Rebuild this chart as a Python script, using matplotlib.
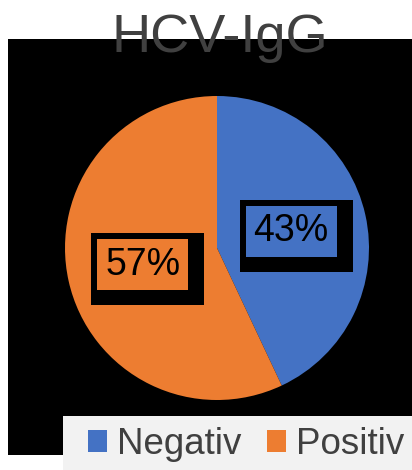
import matplotlib.pyplot as plt
from matplotlib.patches import Rectangle

plt.rcParams['font.family'] = ['Liberation Sans', 'DejaVu Sans']

# chart data
title = 'HCV-IgG'
categories = ['Negativ', 'Positiv']
shares = [43, 57]
colors = ['#4472C4', '#ED7D31']

W, H = 412, 470
fig = plt.figure(figsize=(W / 100, H / 100), dpi=100)

# black plot area behind the pie
bg = fig.add_axes([8 / W, 15 / H, 1 - 8 / W, (455 - 39) / H])
bg.set_facecolor('black')
bg.set_xticks([])
bg.set_yticks([])
for s in bg.spines.values():
    s.set_visible(False)

ax = fig.add_axes([65 / W, 70 / H, 304 / W, 304 / H])
wedges, _, pct_texts = ax.pie(shares, colors=colors, startangle=90, counterclock=False,
                              autopct='%1.0f%%', pctdistance=0.5,
                              textprops=dict(fontsize=27, color='black'))
ax.set_xlim(-1, 1)
ax.set_ylim(-1, 1)

# boxed data labels: black frame, heavier on right/bottom
fig.canvas.draw()
r = fig.canvas.get_renderer()
inv = fig.transFigure.inverted()
for t, c in zip(pct_texts, colors):
    bb = t.get_window_extent(r)
    cy = (bb.y0 + bb.y1) / 2
    ix0, ix1 = bb.x0 - 8, bb.x1 + 8
    iy0, iy1 = cy - 25.5, cy + 25.5
    for (x0, y0, x1, y1), fc, z in [((ix0 - 6, iy0 - 15, ix1 + 16, iy1 + 6), 'black', 2),
                                     ((ix0, iy0, ix1, iy1), c, 2.5)]:
        (fx0, fy0), (fx1, fy1) = inv.transform([(x0, y0), (x1, y1)])
        ax.add_patch(Rectangle((fx0, fy0), fx1 - fx0, fy1 - fy0, transform=fig.transFigure,
                               facecolor=fc, edgecolor='none', zorder=z))

fig.text(220 / W, 1 - 52 / H, title, ha='center', va='baseline', fontsize=39, color='#404040')

# legend strip along the bottom
fig.add_artist(Rectangle((63 / W, 0), 1 - 63 / W, 54 / H, transform=fig.transFigure,
                         facecolor='#f2f2f2', edgecolor='none', zorder=1))
leg = fig.legend(wedges, categories, loc='upper left', bbox_to_anchor=(88 / W, 1 - 427 / H),
                 borderaxespad=0, borderpad=0, ncol=2, fontsize=26.5, labelcolor='#404040',
                 handlelength=0.52, handleheight=0.52, handletextpad=0.26,
                 columnspacing=0.7, frameon=False)
leg.set_zorder(2)

fig.savefig('out.png', dpi=100)
